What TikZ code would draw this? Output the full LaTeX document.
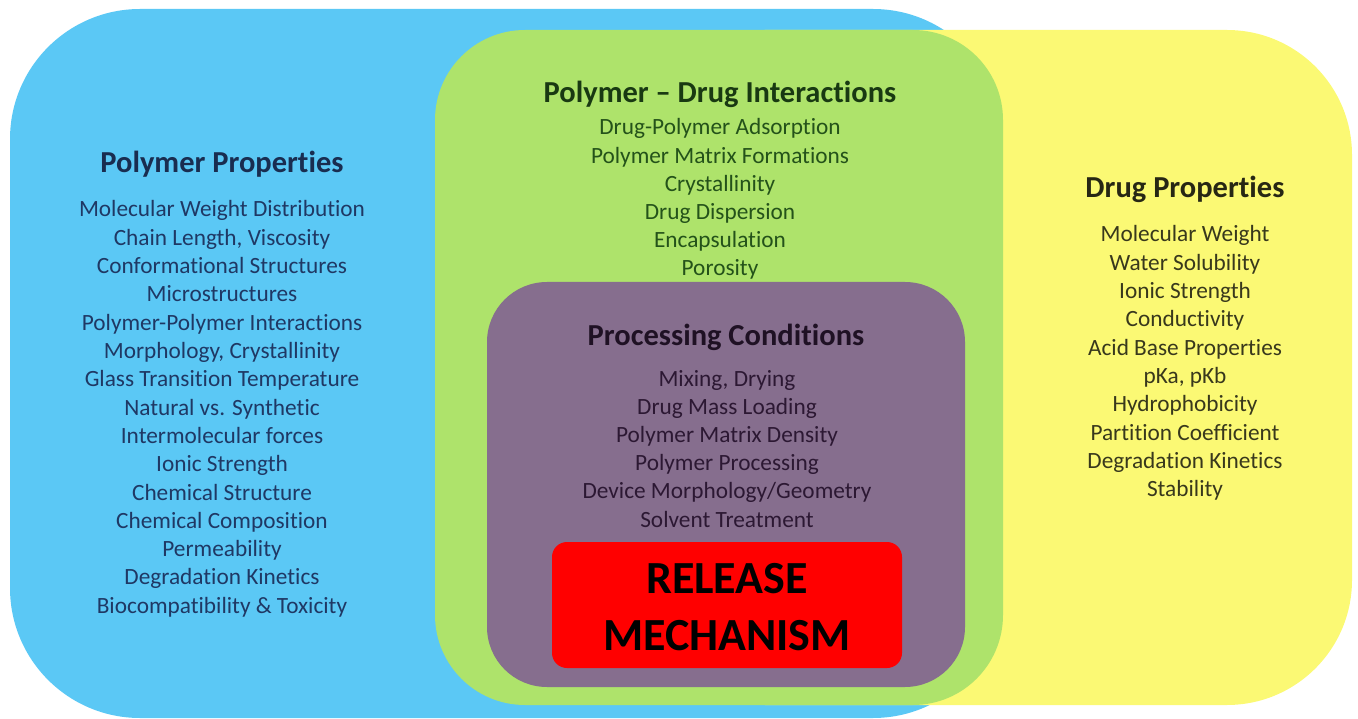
\documentclass[tikz,border=0pt]{standalone}
\usepackage{fontspec}
\setmainfont[Ligatures={NoCommon}]{Carlito}
\usepackage{tikz}
\usetikzlibrary{calc}
\definecolor{polyblue}{HTML}{5BC8F5}
\definecolor{druggreen}{HTML}{AEE36B}
\definecolor{drugyellow}{HTML}{FBF974}
\definecolor{procpurple}{HTML}{866E8E}
\definecolor{relred}{HTML}{FF0000}
\definecolor{navytext}{HTML}{1F3864}
\definecolor{greentext}{HTML}{24521A}
\definecolor{purpletext}{HTML}{2C1833}
\definecolor{olivetext}{HTML}{38381C}
\tikzset{
  item/.style={anchor=base,inner sep=0pt,font=\fontsize{23.3}{28}\selectfont},
  title/.style={anchor=base,inner sep=0pt,font=\fontsize{30.5}{36}\selectfont\bfseries},
  bigtext/.style={anchor=base,inner sep=0pt,font=\fontsize{46}{56}\selectfont\bfseries}
}

\begin{document}
\begin{tikzpicture}[x={(1pt,0)},y={(0,-1pt)}]
\useasboundingbox (0,0) rectangle (1358,719);
% the four overlapping regions
  \fill [polyblue, rounded corners=130pt] (10,9) rectangle (1003,718);
  \fill [drugyellow, rounded corners=125pt] (640,30) rectangle (1352,705);
  \fill [druggreen, rounded corners=90pt] (435,30) rectangle (1003,705);
  \fill [procpurple, rounded corners=60pt] (487,282) rectangle (965,687);
  \fill [relred, rounded corners=15pt] (552,542) rectangle (902,668);
% polymer properties
\node [title,navytext!80!black] (pptitle) at (222,173) {Polymer Properties};
\foreach \i/\t in {1/Molecular Weight Distribution, 2/{Chain Length, Viscosity},
    3/Conformational Structures, 4/Microstructures, 5/Polymer-Polymer Interactions,
    6/{Morphology, Crystallinity}, 7/Glass Transition Temperature, 8/Natural vs. Synthetic,
    9/Intermolecular forces, 10/Ionic Strength, 11/Chemical Structure,
    12/Chemical Composition, 13/Permeability, 14/Degradation Kinetics,
    15/Biocompatibility \& Toxicity}
    \node [item,navytext] (pp\i) at (222,{217+28.3*(\i-1)}) {\t};
% polymer - drug interactions
\node [title,greentext!70!black] (ditle) at (720,103) {Polymer – Drug Interactions};
\foreach \i/\t in {1/Drug-Polymer Adsorption, 2/Polymer Matrix Formations,
    3/Crystallinity, 4/Drug Dispersion, 5/Encapsulation, 6/Porosity}
    \node [item,greentext] (di\i) at (720,{135+28.2*(\i-1)}) {\t};
% drug properties
\node [title,olivetext!70!black] (dptitle) at (1185,198) {Drug Properties};
\foreach \i/\t in {1/Molecular Weight, 2/Water Solubility, 3/Ionic Strength,
    4/Conductivity, 5/Acid Base Properties, 6/{pKa, pKb}, 7/Hydrophobicity,
    8/Partition Coefficient, 9/Degradation Kinetics, 10/Stability}
    \node [item,olivetext] (dp\i) at (1185,{242+28.3*(\i-1)}) {\t};
% processing conditions
\node [title,purpletext!70!black] (pctitle) at (726,345) {Processing Conditions};
\foreach \i/\t in {1/{Mixing, Drying}, 2/Drug Mass Loading, 3/Polymer Matrix Density,
    4/Polymer Processing, 5/{Device Morphology/Geometry}, 6/Solvent Treatment}
    \node [item,purpletext] (pc\i) at (727,{386+28.2*(\i-1)}) {\t};
% release mechanism
\node [bigtext] (rel1) at (727,593) {RELEASE};
\node [bigtext] (rel2) at (727,650) {MECHANISM};
\end{tikzpicture}
\end{document}
